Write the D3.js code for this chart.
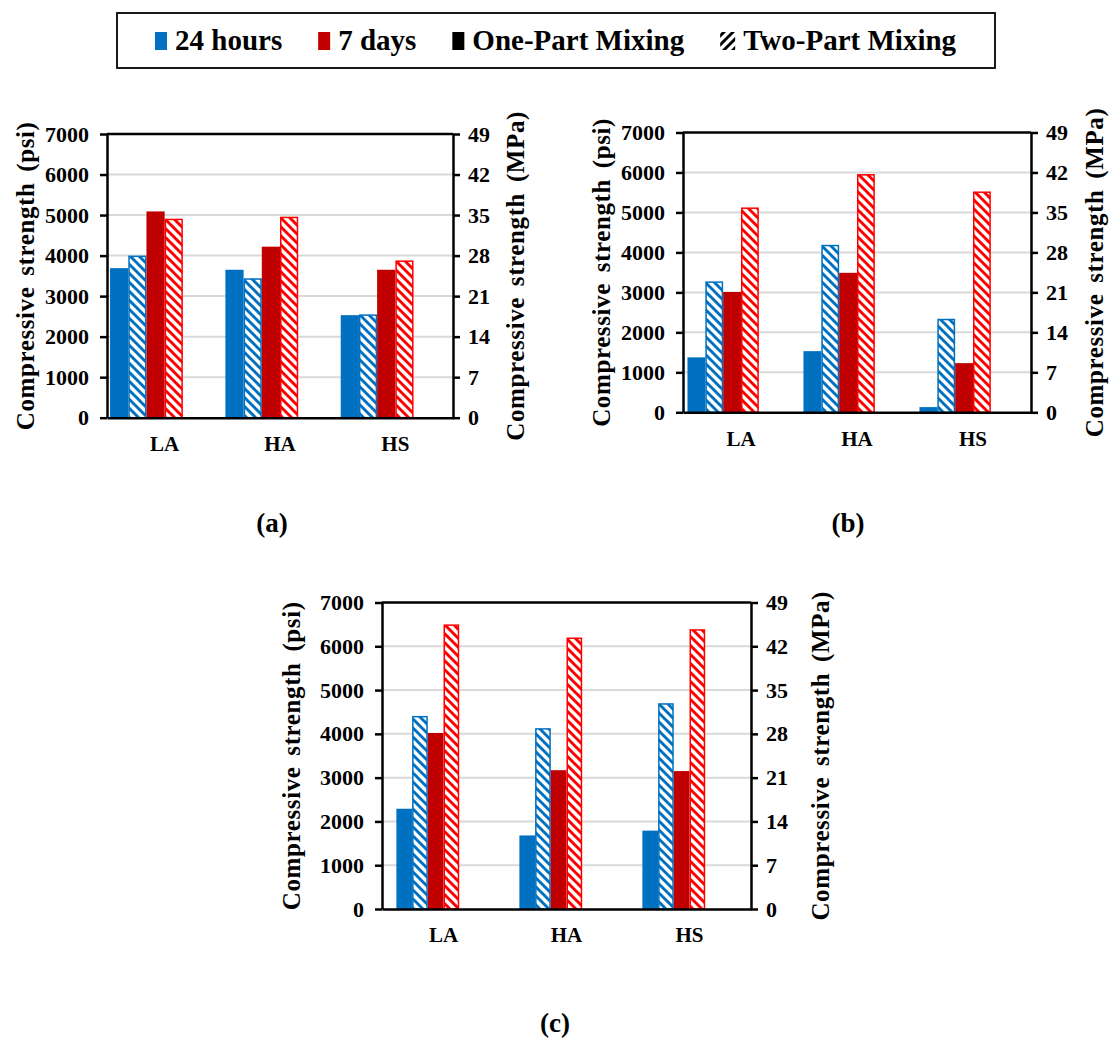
<!DOCTYPE html>
<html>
<head>
<meta charset="utf-8">
<script src="https://cdn.jsdelivr.net/npm/d3@7"></script>
<style>
  body { margin: 0; background: #fff; }
  svg { display: block; font-family: "Liberation Serif", "Times New Roman", serif; font-weight: bold; }
</style>
</head>
<body>
<svg id="fig" width="1109" height="1040"></svg>
<script>
// ---- data -------------------------------------------------------------
const categories = ["LA", "HA", "HS"];
const ages = ["24 hours", "7 days"];
const mixes = ["One-Part Mixing", "Two-Part Mixing"];
const legendLabels = ["24 hours", "7 days", "One-Part Mixing", "Two-Part Mixing"];
const psiTicks = [0, 1000, 2000, 3000, 4000, 5000, 6000, 7000];
const mpaTicks = [0, 7, 14, 21, 28, 35, 42, 49];
const panelTags = ["(a)", "(b)", "(c)"];

// compressive strength, psi, per category LA / HA / HS
const a24One = [3690, 3650, 2530];
const a24Two = [4000, 3440, 2550];
const a7One  = [5090, 4220, 3650];
const a7Two  = [4910, 4960, 3880];

const b24One = [1375, 1530, 130];
const b24Two = [3275, 4190, 2340];
const b7One  = [3010, 3490, 1230];
const b7Two  = [5125, 5960, 5525];

const c24One = [2290, 1680, 1790];
const c24Two = [4410, 4130, 4700];
const c7One  = [4020, 3170, 3150];
const c7Two  = [6500, 6200, 6390];

// ---- styling ----------------------------------------------------------
const solidColor = { "24 hours": "#0070C0", "7 days": "#C00000" };
const hatchColor = { "24 hours": "#0070C0", "7 days": "#FF0000" };

// Each cluster keeps room for the two legend-only entries (no values),
// so the four drawn bars sit left of the category centre.
const slots = [
  "24 hours|One-Part Mixing", "24 hours|Two-Part Mixing",
  "7 days|One-Part Mixing", "7 days|Two-Part Mixing",
  "One-Part Mixing", "Two-Part Mixing"
];

const layout = [
  { left: 107, right: 453, top: 134,   bottom: 417.7, padding: 0.053, titleL: 82, titleR: 62, tagX: 272, tagY: 532 },
  { left: 683, right: 1031, top: 132.5, bottom: 412.3, padding: 0.077, titleL: 82, titleR: 63, tagX: 848, tagY: 532 },
  { left: 382, right: 751, top: 602.5, bottom: 909,   padding: 0.234, titleL: 91, titleR: 69, tagX: 555, tagY: 1032 }
];
const panelSeries = [
  [a24One, a24Two, a7One, a7Two],
  [b24One, b24Two, b7One, b7Two],
  [c24One, c24Two, c7One, c7Two]
];

const svg = d3.select("#fig");
const defs = svg.append("defs");

function hatchPattern(id, color, rising) {
  const s = 9;
  const p = defs.append("pattern")
    .attr("id", id)
    .attr("patternUnits", "userSpaceOnUse")
    .attr("width", s).attr("height", s);
  p.append("rect").attr("width", s).attr("height", s).attr("fill", "#fff");
  const d = rising
    ? `M-2,2 L2,-2 M0,${s} L${s},0 M${s - 2},${s + 2} L${s + 2},${s - 2}`
    : `M-2,${s - 2} L2,${s + 2} M0,0 L${s},${s} M${s - 2},-2 L${s + 2},2`;
  p.append("path").attr("d", d).attr("stroke", color).attr("stroke-width", 2.9);
}
hatchPattern("hatch-24", hatchColor["24 hours"], false);
hatchPattern("hatch-7", hatchColor["7 days"], false);
hatchPattern("hatch-key", "#000", true);
const hatchId = { "24 hours": "hatch-24", "7 days": "hatch-7" };

function styleAxis(g, size) {
  g.attr("font-family", null).attr("font-size", null);
  g.select(".domain").attr("stroke", "#000").attr("stroke-width", 2.5);
  g.selectAll(".tick line").attr("stroke", "#000").attr("stroke-width", 2.5);
  g.selectAll(".tick text").attr("fill", "#000").style("font-size", size + "px");
}

// ---- panels -----------------------------------------------------------
layout.forEach((L, pi) => {
  const g = svg.append("g");
  const x0 = d3.scaleBand().domain(categories).range([L.left, L.right])
    .paddingInner(L.padding).paddingOuter(L.padding / 2);
  const x1 = d3.scaleBand().domain(slots).range([0, x0.bandwidth()]);
  const y = d3.scaleLinear().domain([0, 7000]).range([L.bottom, L.top]);
  const yR = d3.scaleLinear().domain([0, 49]).range([L.bottom, L.top]);

  // horizontal gridlines
  g.append("g").selectAll("line")
    .data(psiTicks.filter(t => t > 0 && t < 7000))
    .join("line")
    .attr("x1", L.left).attr("x2", L.right)
    .attr("y1", d => y(d)).attr("y2", d => y(d))
    .attr("stroke", "#D9D9D9").attr("stroke-width", 2);

  // bars
  const series = [];
  ages.forEach(age => mixes.forEach(mix => series.push({ age, mix, key: age + "|" + mix })));
  series.forEach((s, si) => {
    const vals = panelSeries[pi][si];
    const hatched = s.mix === "Two-Part Mixing";
    g.append("g").selectAll("rect")
      .data(categories.map((c, ci) => ({ c, v: vals[ci] })))
      .join("rect")
      .attr("x", d => x0(d.c) + x1(s.key) + (hatched ? 0.75 : 0))
      .attr("width", x1.bandwidth() - (hatched ? 1.5 : 0))
      .attr("y", d => y(d.v) + (hatched ? 0.75 : 0))
      .attr("height", d => Math.max(0, L.bottom - y(d.v) - (hatched ? 0.75 : 0)))
      .attr("fill", hatched ? `url(#${hatchId[s.age]})` : solidColor[s.age])
      .attr("stroke", hatched ? hatchColor[s.age] : "none")
      .attr("stroke-width", hatched ? 1.5 : 0);
  });

  // frame top
  g.append("line")
    .attr("x1", L.left).attr("x2", L.right)
    .attr("y1", L.top).attr("y2", L.top)
    .attr("stroke", "#000").attr("stroke-width", 2.5);

  // axes
  const ax = g.append("g").attr("transform", `translate(0,${L.bottom})`)
    .call(d3.axisBottom(x0).tickSize(0).tickSizeOuter(0).tickPadding(18.5));
  styleAxis(ax, 21);

  const ayL = g.append("g").attr("transform", `translate(${L.left},0)`)
    .call(d3.axisLeft(y).tickValues(psiTicks).tickFormat(d3.format("d"))
      .tickSize(7).tickSizeOuter(0).tickPadding(11));
  styleAxis(ayL, 22);

  const ayR = g.append("g").attr("transform", `translate(${L.right},0)`)
    .call(d3.axisRight(yR).tickValues(mpaTicks).tickFormat(d3.format("d"))
      .tickSize(7).tickSizeOuter(0).tickPadding(8));
  styleAxis(ayR, 22);

  // axis titles
  const midY = (L.top + L.bottom) / 2;
  g.append("text")
    .attr("transform", `translate(${L.left - L.titleL},${midY}) rotate(-90)`)
    .attr("text-anchor", "middle").attr("dy", "0.35em")
    .style("font-size", "25px").style("letter-spacing", "0.6px").style("word-spacing", "4px")
    .text("Compressive strength (psi)");
  g.append("text")
    .attr("transform", `translate(${L.right + L.titleR},${midY}) rotate(-90)`)
    .attr("text-anchor", "middle").attr("dy", "0.35em")
    .style("font-size", "25px").style("letter-spacing", "0.6px").style("word-spacing", "4px")
    .text("Compressive strength (MPa)");

  // panel tag
  g.append("text")
    .attr("x", L.tagX).attr("y", L.tagY)
    .attr("text-anchor", "middle")
    .style("font-size", "27px")
    .text(panelTags[pi]);
});

// ---- legend -----------------------------------------------------------
const legend = svg.append("g");
legend.append("rect")
  .attr("x", 117).attr("y", 13).attr("width", 878).attr("height", 55)
  .attr("fill", "#fff").attr("stroke", "#000").attr("stroke-width", 1.8);

const keyFill = {
  "24 hours": solidColor["24 hours"],
  "7 days": solidColor["7 days"],
  "One-Part Mixing": "#000",
  "Two-Part Mixing": "url(#hatch-key)"
};
let cx = 155;
legendLabels.forEach(label => {
  const mw = label === "Two-Part Mixing" ? 15 : 12;
  legend.append("rect")
    .attr("x", cx).attr("y", 32).attr("width", mw).attr("height", 18)
    .attr("fill", keyFill[label]);
  cx += mw + 8;
  const t = legend.append("text")
    .attr("x", cx).attr("y", 49.5)
    .style("font-size", "29px")
    .text(label);
  cx += t.node().getComputedTextLength() + 36;
});
</script>
</body>
</html>
